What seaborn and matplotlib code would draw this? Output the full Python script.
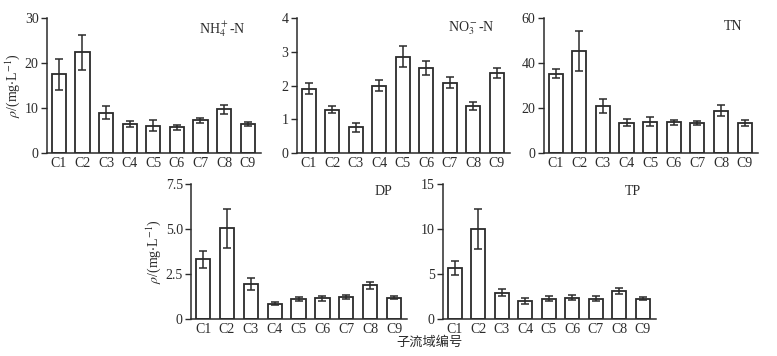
import numpy as np
import pandas as pd
import seaborn as sns
import matplotlib
matplotlib.use('Agg')
import matplotlib.pyplot as plt

sites = ['C1', 'C2', 'C3', 'C4', 'C5', 'C6', 'C7', 'C8', 'C9']

nh4 = [17.5, 22.4, 9.0, 6.4, 6.1, 5.7, 7.3, 9.7, 6.4]
nh4_err = [3.4, 3.9, 1.5, 0.7, 1.2, 0.6, 0.6, 1.05, 0.45]
no3 = [1.91, 1.29, 0.76, 2.0, 2.85, 2.52, 2.09, 1.40, 2.38]
no3_err = [0.17, 0.10, 0.14, 0.16, 0.31, 0.20, 0.16, 0.12, 0.15]
tn = [35.3, 45.6, 21.0, 13.5, 13.9, 13.6, 13.3, 18.8, 13.3]
tn_err = [2.0, 8.9, 3.2, 1.6, 2.0, 1.2, 1.0, 2.4, 1.3]
dp = [3.32, 5.03, 1.93, 0.85, 1.10, 1.15, 1.22, 1.87, 1.19]
dp_err = [0.48, 1.10, 0.33, 0.10, 0.10, 0.15, 0.12, 0.19, 0.08]
tp = [5.68, 9.99, 2.93, 2.0, 2.23, 2.38, 2.23, 3.12, 2.26]
tp_err = [0.78, 2.26, 0.43, 0.30, 0.28, 0.32, 0.28, 0.30, 0.19]

panels = [
    ('NH$_4^+$-N', nh4, nh4_err, 30, [0, 10, 20, 30], ['0', '10', '20', '30']),
    ('NO$_3^-$-N', no3, no3_err, 4, [0, 1, 2, 3, 4], ['0', '1', '2', '3', '4']),
    ('TN', tn, tn_err, 60, [0, 20, 40, 60], ['0', '20', '40', '60']),
    ('DP', dp, dp_err, 7.5, [0, 2.5, 5, 7.5], ['0', '2.5', '5.0', '7.5']),
    ('TP', tp, tp_err, 15, [0, 5, 10, 15], ['0', '5', '10', '15']),
]

sns.set_style('ticks')
plt.rcParams['font.family'] = ['Liberation Serif', 'Noto Sans CJK SC']
plt.rcParams['mathtext.fontset'] = 'stix'
plt.rcParams['font.size'] = 10

ink = '#2b2b2b'
fig = plt.figure(figsize=(7.77, 3.56), dpi=100)
boxes = [
    [0.0605, 0.570, 0.275, 0.379],
    [0.382, 0.570, 0.274, 0.379],
    [0.700, 0.570, 0.275, 0.379],
    [0.246, 0.104, 0.278, 0.379],
    [0.570, 0.104, 0.274, 0.379],
]

for i, (name, vals, errs, top, ticks, ticklabels) in enumerate(panels):
    ax = fig.add_axes(boxes[i])
    df = pd.DataFrame({'site': sites, 'value': vals})
    sns.barplot(data=df, x='site', y='value', ax=ax, color='white',
                edgecolor=ink, linewidth=1.3, width=0.6, errorbar=None)
    ax.errorbar(np.arange(len(sites)), vals, yerr=errs, fmt='none',
                ecolor=ink, elinewidth=1.1, capsize=3, capthick=1.1)
    ax.set_ylim(0, top)
    ax.set_xlim(-0.5, 8.55)
    ax.set_yticks(ticks)
    ax.set_yticklabels(ticklabels)
    ax.set_xlabel('')
    ax.set_ylabel('')
    ax.tick_params(axis='x', length=0, pad=3, colors=ink, labelsize=10)
    ax.tick_params(axis='y', length=4, width=1, pad=2, colors=ink, labelsize=10)
    for s in ['top', 'right']:
        ax.spines[s].set_visible(False)
    for s in ['left', 'bottom']:
        ax.spines[s].set_color(ink)
        ax.spines[s].set_linewidth(1.1)
    ax.text(0.93, 0.99, name, transform=ax.transAxes, ha='right', va='top',
            fontsize=10, color=ink)
    if i in (0, 3):
        ax.set_ylabel(r'$\rho$/(mg$\cdot$L$^{-1}$)', color=ink, fontsize=10, labelpad=2)

fig.text(0.553, 0.038, '子流域编号', ha='center', va='center', fontsize=9.5,
         color=ink, family=['Noto Sans CJK SC', 'DejaVu Sans'])

fig.savefig('out.png', dpi=100)
